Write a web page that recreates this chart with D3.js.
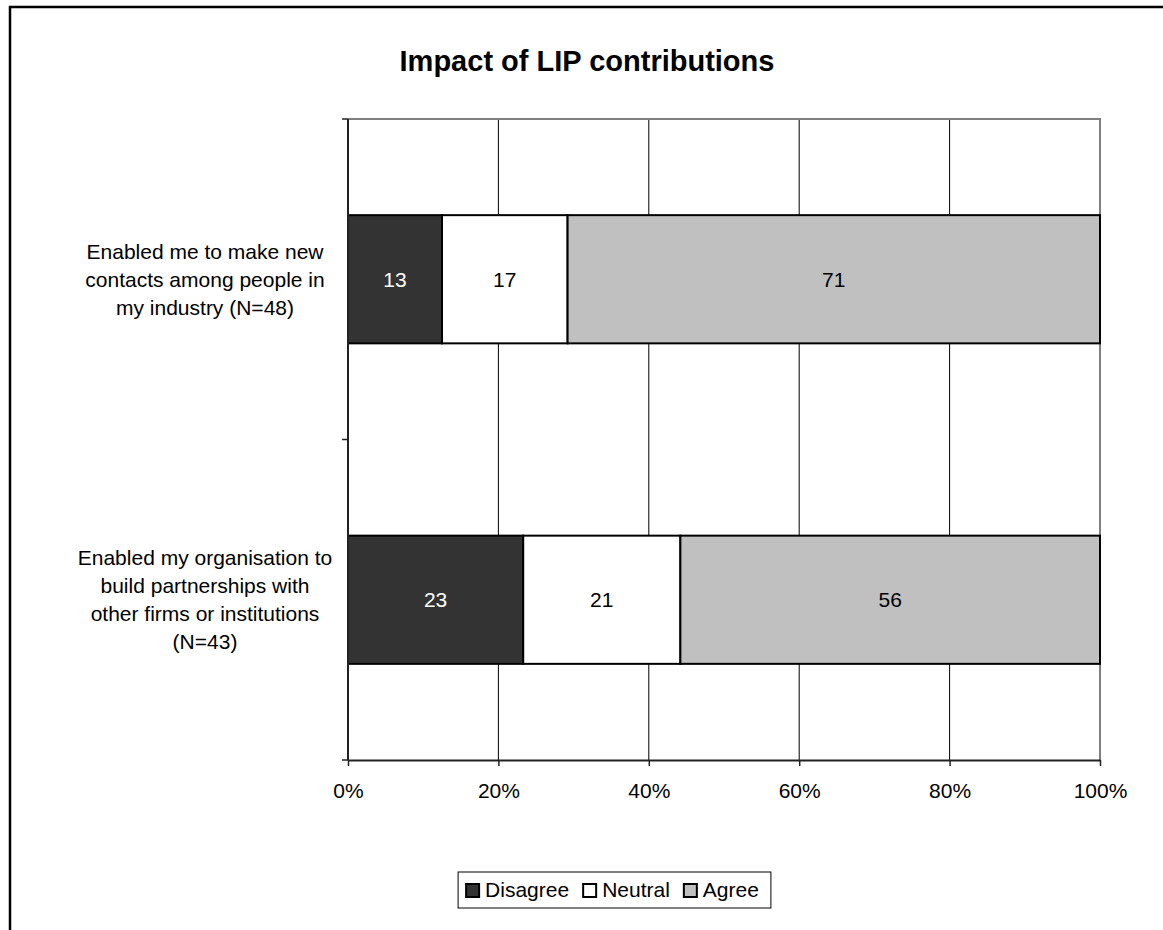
<!DOCTYPE html>
<html>
<head>
<meta charset="utf-8">
<script src="https://cdn.jsdelivr.net/npm/d3@7/dist/d3.min.js"></script>
<style>
  html, body { margin: 0; padding: 0; background: #fff; }
  svg { display: block; font-family: "Liberation Sans", Arial, sans-serif; }
</style>
</head>
<body>
<svg id="chart" width="1163" height="930"></svg>
<script>
// Survey items (each entry is one wrapped label, one line per string)
const categories = [
  ["Enabled me to make new", "contacts among people in", "my industry (N=48)"],
  ["Enabled my organisation to", "build partnerships with", "other firms or institutions", "(N=43)"]
];
const seriesNames = ["Disagree", "Neutral", "Agree"];
// Share of respondents (%) per item
const disagree = [12.5, 23.3];
const neutral  = [16.7, 20.9];
const agree    = [70.8, 55.8];
const xTicks = [0, 0.2, 0.4, 0.6, 0.8, 1];
const title = "Impact of LIP contributions";

const colors = { Disagree: "#333333", Neutral: "#ffffff", Agree: "#c0c0c0" };
const labelColors = { Disagree: "#ffffff", Neutral: "#000000", Agree: "#000000" };

const rows = categories.map((lines, i) => ({
  key: lines.join(" "),
  lines,
  Disagree: disagree[i],
  Neutral: neutral[i],
  Agree: agree[i]
}));

const svg = d3.select("#chart");
const plot = { left: 348, right: 1100, top: 119, bottom: 760 };

// Outer chart frame
svg.append("rect")
  .attr("x", 10).attr("y", 7)
  .attr("width", 1300).attr("height", 1100)
  .attr("fill", "none").attr("stroke", "#000").attr("stroke-width", 2.5);

// Title
svg.append("text")
  .attr("x", 587).attr("y", 71)
  .attr("text-anchor", "middle")
  .attr("font-size", 29).attr("font-weight", "bold")
  .text(title);

const x = d3.scaleLinear().domain([0, 1]).range([plot.left, plot.right]);
const y = d3.scaleBand()
  .domain(rows.map(d => d.key))
  .range([plot.top, plot.bottom])
  .paddingInner(0.6)
  .paddingOuter(0.3);

// Vertical gridlines
svg.append("g")
  .selectAll("line")
  .data(xTicks.filter(t => t > 0 && t < 1))
  .join("line")
  .attr("x1", d => x(d)).attr("x2", d => x(d))
  .attr("y1", plot.top).attr("y2", plot.bottom)
  .attr("stroke", "#000").attr("stroke-width", 1);

// Plot area top / right border
svg.append("path")
  .attr("d", `M${plot.left},${plot.top}H${plot.right}V${plot.bottom}`)
  .attr("fill", "none").attr("stroke", "#808080").attr("stroke-width", 2);

// 100% stacked bars
const stack = d3.stack().keys(seriesNames).offset(d3.stackOffsetExpand);
const stacked = stack(rows);

const layers = svg.append("g")
  .selectAll("g")
  .data(stacked)
  .join("g");

layers.selectAll("rect")
  .data(s => s.map(p => ({ key: s.key, p })))
  .join("rect")
  .attr("x", d => x(d.p[0]))
  .attr("y", d => y(d.p.data.key))
  .attr("width", d => x(d.p[1]) - x(d.p[0]))
  .attr("height", y.bandwidth())
  .attr("fill", d => colors[d.key])
  .attr("stroke", "#000")
  .attr("stroke-width", 2);

const fmt = d3.format(".0f");
layers.selectAll("text")
  .data(s => s.map(p => ({ key: s.key, p })))
  .join("text")
  .attr("x", d => (x(d.p[0]) + x(d.p[1])) / 2)
  .attr("y", d => y(d.p.data.key) + y.bandwidth() / 2 + 7.5)
  .attr("text-anchor", "middle")
  .attr("font-size", 21)
  .attr("fill", d => labelColors[d.key])
  .text(d => fmt(d.p.data[d.key]));

// X axis
const xAxis = svg.append("g")
  .attr("transform", `translate(0,${plot.bottom})`)
  .call(d3.axisBottom(x).tickValues(xTicks).tickFormat(d3.format(".0%")).tickSize(6).tickSizeOuter(0));
xAxis.select(".domain").attr("stroke", "#222").attr("stroke-width", 2);
xAxis.selectAll(".tick line").attr("stroke", "#222").attr("stroke-width", 1.5);
xAxis.selectAll(".tick text")
  .attr("y", 38).attr("dy", null)
  .attr("font-size", 21).attr("font-family", "Liberation Sans, Arial, sans-serif")
  .attr("fill", "#000");

// Y axis: line with ticks on category boundaries
const yAxis = svg.append("g");
yAxis.append("line")
  .attr("x1", plot.left).attr("x2", plot.left)
  .attr("y1", plot.top).attr("y2", plot.bottom)
  .attr("stroke", "#222").attr("stroke-width", 2);
const boundaries = d3.range(rows.length + 1).map(i => plot.top + i * y.step());
yAxis.selectAll(".ytick")
  .data(boundaries)
  .join("line")
  .attr("class", "ytick")
  .attr("x1", plot.left - 6).attr("x2", plot.left)
  .attr("y1", d => d).attr("y2", d => d)
  .attr("stroke", "#222").attr("stroke-width", 1.5);

// Category labels
const lineH = 28;
const catLabels = svg.append("g")
  .selectAll("text")
  .data(rows)
  .join("text")
  .attr("text-anchor", "middle")
  .attr("font-size", 21)
  .attr("fill", "#000");
catLabels.each(function (d) {
  const cy = y(d.key) + y.bandwidth() / 2;
  const n = d.lines.length;
  d3.select(this).selectAll("tspan")
    .data(d.lines)
    .join("tspan")
    .attr("x", 205)
    .attr("y", (l, i) => cy + (i - (n - 1) / 2) * lineH + 7.5)
    .text(l => l);
});

// Legend
const legend = svg.append("g");
const legendBox = legend.append("rect")
  .attr("fill", "#fff").attr("stroke", "#000").attr("stroke-width", 1);
const items = legend.selectAll("g.item")
  .data(seriesNames)
  .join("g").attr("class", "item");
items.append("rect")
  .attr("width", 13).attr("height", 13)
  .attr("fill", d => colors[d])
  .attr("stroke", "#000").attr("stroke-width", 2);
items.append("text")
  .attr("x", 19).attr("y", 13)
  .attr("font-size", 21)
  .text(d => d);
let cursor = 0;
items.each(function () {
  const g = d3.select(this);
  g.attr("transform", `translate(${cursor},0)`);
  cursor += 19 + g.select("text").node().getComputedTextLength() + 14;
});
cursor -= 14;
const legendCx = 612.5, legendTop = 872, legendH = 36;
const legendLeft = legendCx - cursor / 2;
items.attr("transform", function () {
  const t = d3.select(this).attr("transform").match(/translate\(([-\d.]+)/);
  return `translate(${legendLeft + (+t[1])},${884})`;
});
legendBox
  .attr("x", legendLeft - 8).attr("y", legendTop)
  .attr("width", cursor + 20).attr("height", legendH);
</script>
</body>
</html>
